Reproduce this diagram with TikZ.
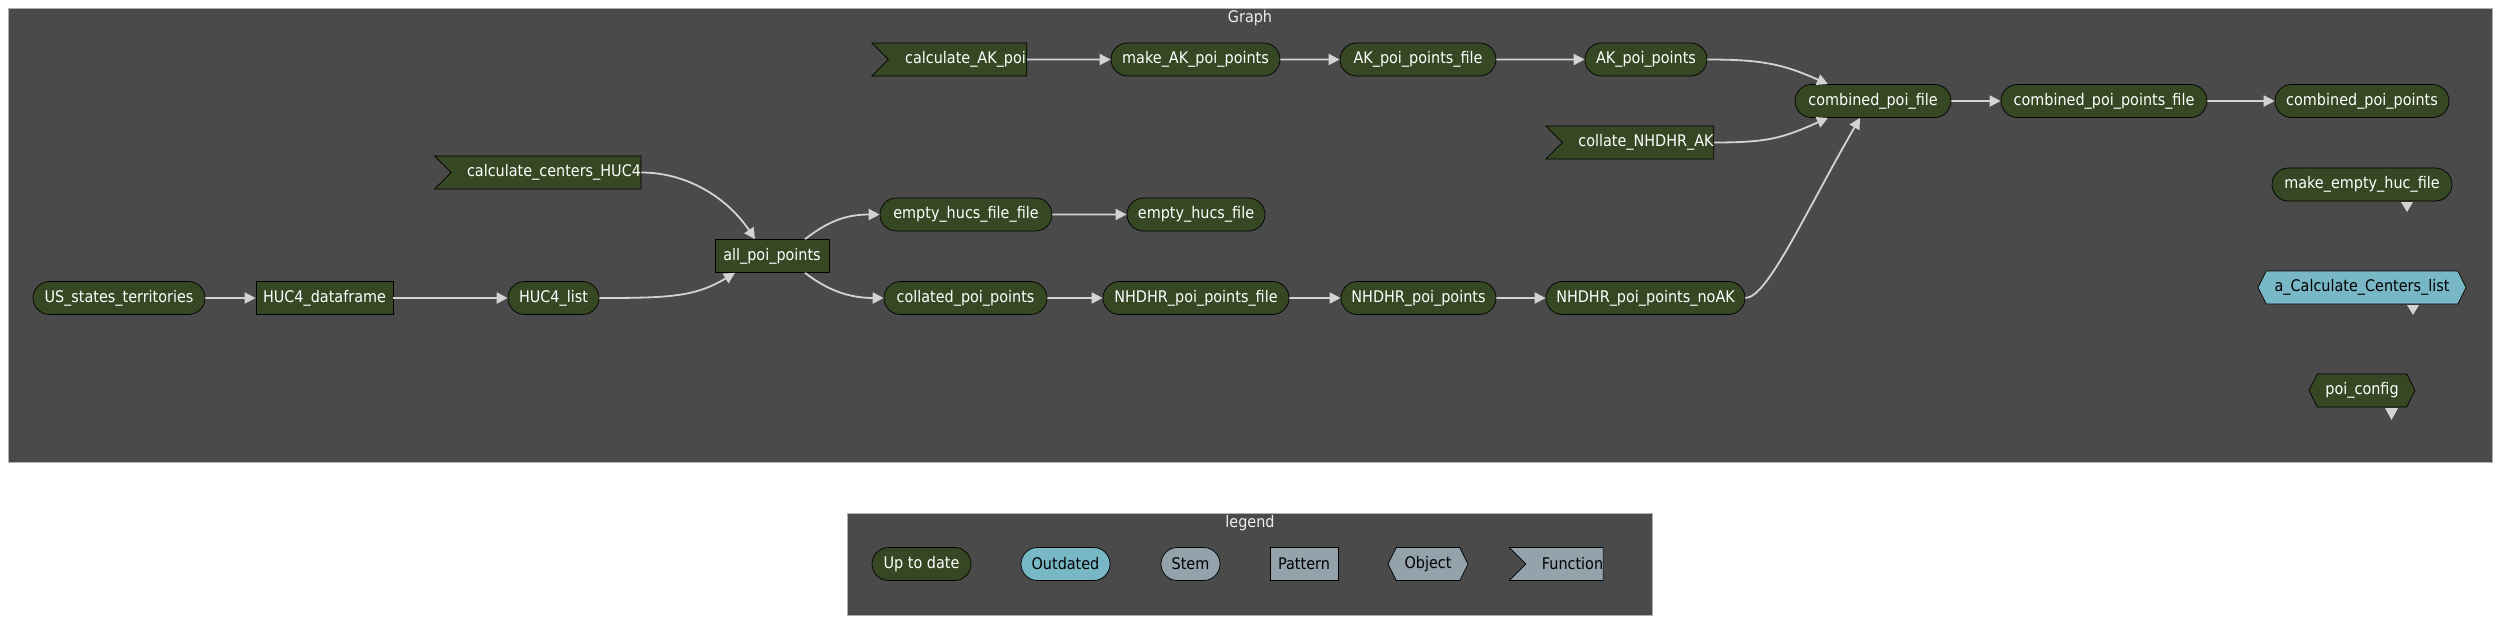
\documentclass[tikz,border=0pt]{standalone}
\usepackage{fontspec}
\setmainfont{DejaVu Sans}[FakeStretch=0.9]
\usetikzlibrary{shapes.misc,shapes.symbols,arrows.meta}
\definecolor{bgcol}{HTML}{494A49}
\definecolor{upfill}{HTML}{354823}
\definecolor{outfill}{HTML}{78B7C5}
\definecolor{nonefill}{HTML}{94A2AC}
\definecolor{edgecol}{HTML}{D3D3D3}
\definecolor{framecol}{HTML}{B0B0B0}
\definecolor{titlecol}{HTML}{EEEEEE}
\newcommand{\fshift}{\hspace*{16pt}}
\begin{document}
\begin{tikzpicture}[x=1pt,y=-1pt,
  base/.style={font=\fontsize{16}{19}\selectfont, minimum height=33pt, inner sep=0pt, draw=black, line width=0.7pt},
  up/.style={base, fill=upfill, text=white},
  outd/.style={base, fill=outfill, text=black},
  nonest/.style={base, fill=nonefill, text=black},
  stemsh/.style={rounded rectangle},
  patsh/.style={rectangle},
  objsh/.style={signal, signal to=west and east, signal pointer angle=126.87},
  funsh/.style={signal, signal from=west, signal to=nowhere, signal pointer angle=90},
  conn/.style={draw=edgecol, line width=1.8pt, -{Triangle[length=11pt,width=11pt]}},
  tip/.style={fill=edgecol, draw=none},
  titlest/.style={font=\fontsize{16}{19}\selectfont, text=titlecol, inner sep=0pt}
]
\useasboundingbox (0,0) rectangle (2508,626);
\fill[white] (0,0) rectangle (2508,626);
% frames
\draw[fill=bgcol, draw=framecol, line width=0.8pt] (8,8) rectangle (2492,462);
\draw[fill=bgcol, draw=framecol, line width=0.8pt] (847,513) rectangle (1652,615);
\node[titlest] (gtitle) at (1250,18) {Graph};
\node[titlest] (ltitle) at (1250,523) {legend};

% graph nodes
\node[up, stemsh, minimum width=172pt] (us) at (119,298) {US\_states\_territories};
\node[up, patsh, minimum width=137pt] (hdf) at (324.5,298) {HUC4\_dataframe};
\node[up, stemsh, minimum width=91pt] (hlist) at (553.5,298) {HUC4\_list};
\node[up, funsh, minimum width=206pt] (cch) at (546,172.5) {\fshift calculate\_centers\_HUC4};
\node[up, patsh, minimum width=114pt] (allp) at (772,256) {all\_poi\_points};
\node[up, stemsh, minimum width=172pt] (ehff) at (966,214.5) {empty\_hucs\_file\_file};
\node[up, stemsh, minimum width=138pt] (ehf) at (1196,214.5) {empty\_hucs\_file};
\node[up, stemsh, minimum width=163pt] (colp) at (965.5,298) {collated\_poi\_points};
\node[up, stemsh, minimum width=186pt] (nhf) at (1196,298) {NHDHR\_poi\_points\_file};
\node[up, stemsh, minimum width=155pt] (nhp) at (1418.5,298) {NHDHR\_poi\_points};
\node[up, stemsh, minimum width=199pt] (nhna) at (1645.5,298) {NHDHR\_poi\_points\_noAK};
\node[up, funsh, minimum width=155pt] (cak) at (957.5,59.5) {\fshift calculate\_AK\_poi};
\node[up, stemsh, minimum width=169pt] (mak) at (1195.5,59.5) {make\_AK\_poi\_points};
\node[up, stemsh, minimum width=156pt] (akf) at (1418,59.5) {AK\_poi\_points\_file};
\node[up, stemsh, minimum width=122pt] (akp) at (1646,59.5) {AK\_poi\_points};
\node[up, funsh, minimum width=166pt] (coll) at (1638,142.5) {\fshift collate\_NHDHR\_AK};
\node[up, stemsh, minimum width=156pt] (cpf) at (1873,101) {combined\_poi\_file};
\node[up, stemsh, minimum width=206pt] (cppf) at (2104,101) {combined\_poi\_points\_file};
\node[up, stemsh, minimum width=174pt] (cpp) at (2362,101) {combined\_poi\_points};
\node[up, stemsh, minimum width=180pt] (mehf) at (2362,184.5) {make\_empty\_huc\_file};
\node[outd, objsh, minimum width=208pt] (acc) at (2362,287.5) {a\_Calculate\_Centers\_list};
\node[up, objsh, minimum width=106pt] (pcfg) at (2362,390.5) {poi\_config};

% connectors
\draw[conn] (us) -- (hdf);
\draw[conn] (hdf) -- (hlist);
\draw[conn] (hlist.east) .. controls +(70,0) and +(-40,24) .. ([xshift=-37pt]allp.south);
\draw[conn] (cch.east) .. controls +(45,0) and +(-28,-42) .. ([xshift=-17pt]allp.north);
\draw[conn] ([xshift=33pt]allp.north) .. controls +(22,-17) and +(-35,0) .. (ehff.west);
\draw[conn] ([xshift=33pt]allp.south) .. controls +(22,17) and +(-35,0) .. (colp.west);
\draw[conn] (ehff) -- (ehf);
\draw[conn] (colp) -- (nhf);
\draw[conn] (nhf) -- (nhp);
\draw[conn] (nhp) -- (nhna);
\draw[conn] (cak) -- (mak);
\draw[conn] (mak) -- (akf);
\draw[conn] (akf) -- (akp);
\draw[conn] (akp.east) .. controls +(55,0) and +(-45,-20) .. ([xshift=-45pt]cpf.north);
\draw[conn] (coll.east) .. controls +(55,0) and +(-45,20) .. ([xshift=-45pt]cpf.south);
\draw[conn] (nhna.east) .. controls +(22,0) and +(-55,95) .. ([xshift=-13pt]cpf.south);
\draw[conn] (cpf) -- (cppf);
\draw[conn] (cppf) -- (cpp);

% lone arrow tips
\fill[tip] (2401,202) -- (2413,202) -- (2407,212) -- cycle;
\fill[tip] (2407,305) -- (2419,305) -- (2413,315) -- cycle;
\fill[tip] (2385,408) -- (2398,408) -- (2391.5,420) -- cycle;

% legend nodes
\node[up, stemsh, minimum width=99pt] (lup) at (921.5,564) {Up to date};
\node[outd, stemsh, minimum width=89pt] (lout) at (1065.5,564) {Outdated};
\node[nonest, stemsh, minimum width=59pt] (lstem) at (1190.5,564) {Stem};
\node[nonest, patsh, minimum width=68pt] (lpat) at (1304,564) {Pattern};
\node[nonest, objsh, minimum width=80pt] (lobj) at (1428,564) {Object};
\node[nonest, funsh, minimum width=93pt] (lfun) at (1564.5,564) {\fshift Function};
\end{tikzpicture}
\end{document}
